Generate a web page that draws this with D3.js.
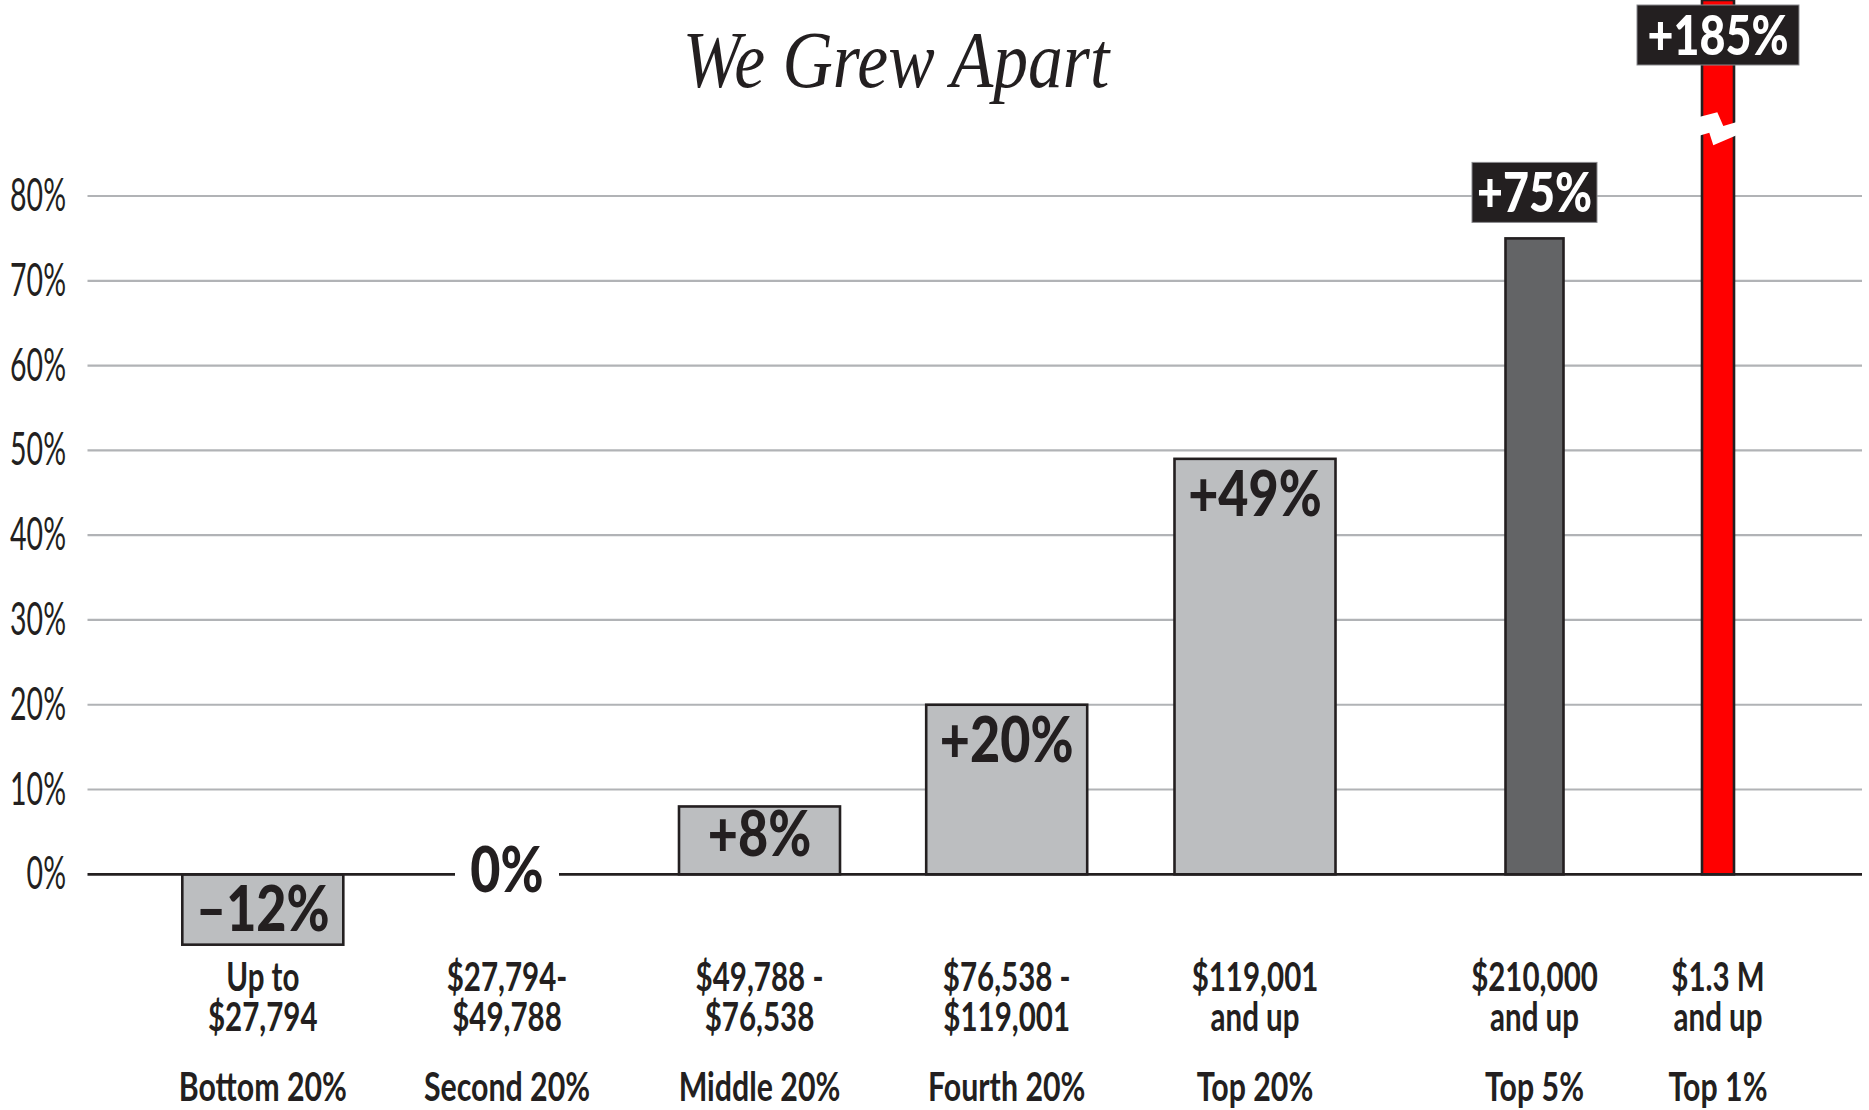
<!DOCTYPE html>
<html><head><meta charset="utf-8">
<script src="https://cdn.jsdelivr.net/npm/d3@7"></script>
<style>html,body{margin:0;padding:0;background:#fff}svg{display:block}</style>
</head><body>
<script>
// ---- data ----
const title = "We Grew Apart";
const categories = ["Bottom 20%", "Second 20%", "Middle 20%", "Fourth 20%", "Top 20%", "Top 5%", "Top 1%"];
const incomeLine1 = ["Up to", "$27,794-", "$49,788 -", "$76,538 -", "$119,001", "$210,000", "$1.3 M"];
const incomeLine2 = ["$27,794", "$49,788", "$76,538", "$119,001", "and up", "and up", "and up"];
const growth = [-12, 0, 8, 20, 49, 75, 185];
const valueLabels = ["\u201312%", "0%", "+8%", "+20%", "+49%", "+75%", "+185%"];
const yTicks = [0, 10, 20, 30, 40, 50, 60, 70, 80];

// ---- layout ----
const W = 1869, H = 1110;
const ink = "#231f20";
const svg = d3.select("body").append("svg").attr("width", W).attr("height", H);

const y = d3.scaleLinear().domain([0, 80]).range([874.3, 196]);
const x = d3.scaleLinear().domain(d3.range(categories.length))
  .range([262.8, 507, 759.5, 1006.7, 1255, 1534.5, 1718]);
const negFloor = -8.3;       // display floor of the negative bar
const breakAt = 88;          // axis-break position on the Top 1% bar
const barW = i => i < 5 ? 161 : (i === 5 ? 58 : 32);
const barFill = i => i < 5 ? "#bcbec0" : (i === 5 ? "#636466" : "#ff0000");
const gridL = 87.5, gridR = 1862;

function sText(g, txt, px, py, opt) {
  const t = g.append("g").attr("transform", `translate(${px},${py}) scale(${opt.sx},1)`)
    .append("text").text(txt)
    .attr("text-anchor", opt.anchor || "middle")
    .attr("font-family", opt.family || "Lato, 'Open Sans', sans-serif")
    .attr("font-size", opt.size)
    .attr("font-weight", opt.weight || 700)
    .attr("font-style", opt.style || "normal")
    .attr("fill", opt.fill || ink);
  return t;
}

// title
sText(svg, title, 896, 87, {sx: 0.87, size: 80, weight: 400, style: "italic",
  family: "'Liberation Serif', 'DejaVu Serif', serif"});

// gridlines
const grid = svg.append("g");
grid.selectAll("line").data(yTicks.filter(d => d !== 0)).join("line")
  .attr("x1", gridL).attr("x2", gridR)
  .attr("y1", d => y(d)).attr("y2", d => y(d))
  .attr("stroke", "#b1b3b6").attr("stroke-width", 2.2);

// y tick labels
yTicks.forEach(d => sText(svg, d + "%", 66, y(d) + 15,
  {sx: 0.62, size: 46, weight: 400, anchor: "end"}));

// bars
const bars = svg.append("g");
growth.forEach((v, i) => {
  if (v === 0) return;
  const top = v > 0 ? Math.max(0, y(v)) : y(0);
  const bot = v > 0 ? y(0) : y(Math.max(v, negFloor));
  bars.append("rect")
    .attr("x", x(i) - barW(i) / 2).attr("width", barW(i))
    .attr("y", top).attr("height", bot - top)
    .attr("fill", barFill(i)).attr("stroke", ink).attr("stroke-width", 2.6);
});

// axis break on the Top 1% bar
const iTop = 6, yb = y(breakAt), cx = x(iTop);
const brk = [[-18, -11.4], [-0.7, -15.8], [5.3, -2.1], [18, -5.8], [18, 7.4], [-4.7, 17], [-8.7, 4.6], [-18, 7.4]];
svg.append("polygon")
  .attr("points", brk.map(p => [cx + p[0], yb + p[1]].join(",")).join(" "))
  .attr("fill", "#fff");

// zero line with gap for the 0% label
const zeroIdx = growth.indexOf(0);
const gapHalf = 52;
svg.append("line").attr("x1", gridL).attr("x2", x(zeroIdx) - gapHalf)
  .attr("y1", y(0)).attr("y2", y(0)).attr("stroke", ink).attr("stroke-width", 2.8);
svg.append("line").attr("x1", x(zeroIdx) + gapHalf).attr("x2", gridR)
  .attr("y1", y(0)).attr("y2", y(0)).attr("stroke", ink).attr("stroke-width", 2.8);

// value labels
growth.forEach((v, i) => {
  if (i >= 5) {
    const bw = i === 5 ? 125 : 162;
    const boxBot = i === 5 ? y(v) - 16 : 65;
    svg.append("rect").attr("x", x(i) - bw / 2).attr("width", bw)
      .attr("y", boxBot - 60).attr("height", 60)
      .attr("fill", ink).attr("stroke", "#8a8a8d").attr("stroke-width", 1);
    sText(svg, valueLabels[i], x(i), boxBot - 10, {sx: 0.8, size: 56, weight: 900, fill: "#fff"});
  } else if (v === 0) {
    sText(svg, valueLabels[i], x(i), y(0) + 17.5, {sx: 0.84, size: 62, weight: 900});
  } else {
    const top = v > 0 ? y(v) : y(0);
    const base = v > 0 ? Math.min(top + 57, y(0) - 18) : top + 57;
    sText(svg, valueLabels[i], x(i), base, {sx: 0.84, size: 62, weight: 900});
  }
});

// category labels
categories.forEach((c, i) => {
  sText(svg, incomeLine1[i], x(i), 991, {sx: 0.72, size: 41});
  sText(svg, incomeLine2[i], x(i), 1031, {sx: 0.72, size: 41});
  sText(svg, c, x(i), 1101, {sx: 0.74, size: 41});
});
</script>
</body></html>
